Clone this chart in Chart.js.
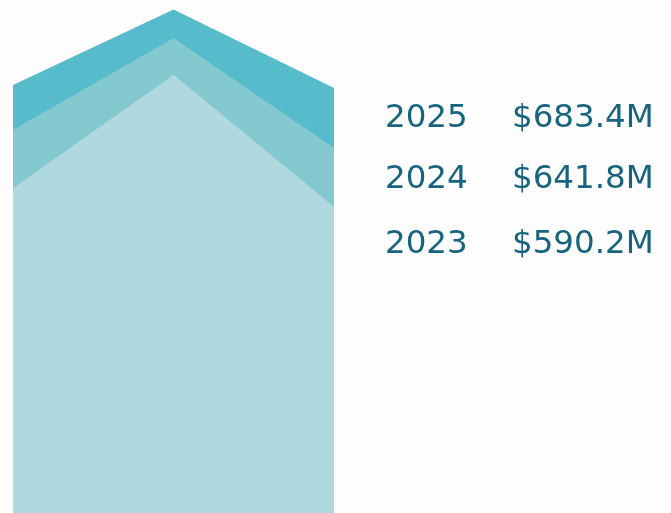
<!DOCTYPE html>
<html>
<head>
<meta charset="utf-8">
<script src="https://cdn.jsdelivr.net/npm/chart.js@4/dist/chart.umd.min.js"></script>
<style>
  html, body { margin: 0; padding: 0; background: #fdfdfd; }
  #wrap { position: relative; width: 671px; height: 513px; overflow: hidden; }
  #chart { position: absolute; left: 0; top: 0; }
  .lbl {
    position: absolute; font-family: "DejaVu Sans", sans-serif; font-size: 32.5px;
    color: #17647e; line-height: 1; white-space: nowrap;
  }
</style>
</head>
<body>
<div id="wrap">
  <canvas id="chart" width="671" height="513"></canvas>
</div>
<script>
// ======= data =======
const years = ['2023', '2024', '2025'];
const totals = ['$590.2M', '$641.8M', '$683.4M'];
const points = ['start', 'peak', 'end'];
const v2023 = [443, 598, 418];
const v2024 = [523, 648, 498];
const v2025 = [584, 687, 580];

const colors = ['#afd8df', '#84c8d0', '#56bbcb'];
const series = [v2023, v2024, v2025];
// vertical centre of each label row
const rowCenters = { '2025': 117, '2024': 178, '2023': 243 };

const datasets = years.map((y, i) => ({
  label: y,
  data: series[i],
  backgroundColor: colors[i],
  borderWidth: 0,
  pointRadius: 0,
  fill: 'origin',
  tension: 0,
  order: i
}));

new Chart(document.getElementById('chart'), {
  type: 'line',
  data: { labels: points, datasets },
  options: {
    responsive: false,
    animation: false,
    layout: { padding: { left: 13, right: 337, top: 0, bottom: 0 } },
    plugins: { legend: { display: false }, tooltip: { enabled: false } },
    scales: {
      x: { display: false, offset: false },
      y: { display: false, min: 0, max: 700 }
    }
  }
});

// right-hand labels
const wrap = document.getElementById('wrap');
years.forEach((y, i) => {
  const cy = rowCenters[y];
  const a = document.createElement('div');
  a.className = 'lbl';
  a.textContent = y;
  a.style.left = '385px';
  a.style.top = (cy - 17) + 'px';
  wrap.appendChild(a);
  const b = document.createElement('div');
  b.className = 'lbl';
  b.textContent = totals[i];
  b.style.left = '512px';
  b.style.top = (cy - 17) + 'px';
  wrap.appendChild(b);
});
</script>
</body>
</html>
